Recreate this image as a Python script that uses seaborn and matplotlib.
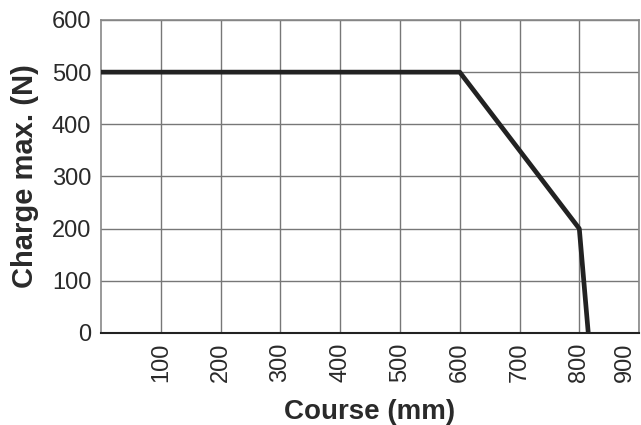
import matplotlib
matplotlib.use('Agg')
import matplotlib.pyplot as plt
import matplotlib.transforms as mtransforms
import seaborn as sns
import pandas as pd

# Course (mm) vs charge max (N)
course = [0, 600, 800, 815]
charge = [500, 500, 200, 0]
x_ticks = [100, 200, 300, 400, 500, 600, 700, 800, 900]
y_ticks = [0, 100, 200, 300, 400, 500, 600]

sns.set_style('white')
plt.rcParams['font.family'] = ['Liberation Sans', 'DejaVu Sans']

df = pd.DataFrame({'course': course, 'charge': charge})

fig = plt.figure(figsize=(6.41, 4.25), dpi=100)
ax = fig.add_axes([0.1576, 0.2165, 0.8394, 0.7365])

sns.lineplot(x='course', y='charge', data=df, ax=ax, color='#222222', linewidth=3.4,
             sort=False, zorder=3)

ax.set_xlim(0, 900)
ax.set_ylim(0, 600)
ax.set_xticks(x_ticks)
ax.set_yticks(y_ticks)
ax.set_xticklabels([str(v) for v in x_ticks], rotation=90, fontsize=17, color='#2a2a2a')
ax.set_yticklabels([str(v) for v in y_ticks], fontsize=17, color='#2a2a2a')
ax.tick_params(length=0, pad=7)
ax.grid(True, color='#777777', linewidth=1)

# le dernier label (900) est decale vers la gauche pour rester dans l'image
last = ax.get_xticklabels()[-1]
last.set_transform(last.get_transform() + mtransforms.ScaledTranslation(-10 / 72, 0, fig.dpi_scale_trans))

for s in ['top', 'right', 'left']:
    ax.spines[s].set_color('#888888')
    ax.spines[s].set_linewidth(1.2)
ax.spines['bottom'].set_color('#222222')
ax.spines['bottom'].set_linewidth(1.5)

ax.set_xlabel('Course (mm)', fontsize=20, fontweight='bold', color='#2a2a2a', labelpad=12)
ax.set_ylabel('Charge max. (N)', fontsize=21, fontweight='bold', color='#2a2a2a', labelpad=9)

fig.savefig('out.png', dpi=100)
